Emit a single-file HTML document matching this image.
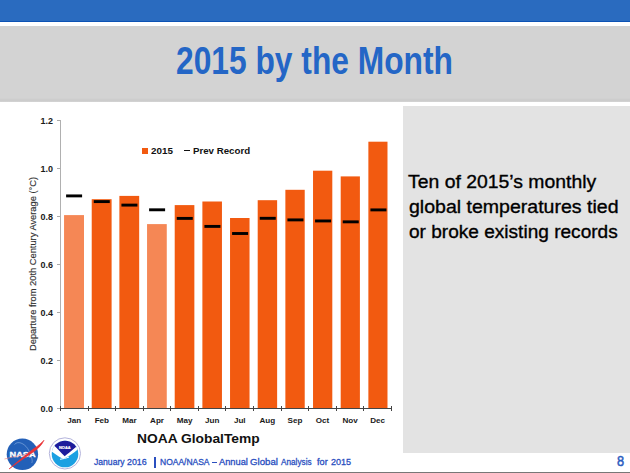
<!DOCTYPE html>
<html><head><meta charset="utf-8">
<style>
html,body{margin:0;padding:0;}
body{width:630px;height:473px;position:relative;overflow:hidden;background:#fff;font-family:"Liberation Sans",sans-serif;}
.a{position:absolute;}
.t{position:absolute;white-space:nowrap;line-height:1;transform-origin:0 0;}
#topbar{left:0;top:0;width:630px;height:21px;background:#2a6bbf;border-bottom:1px solid #0c52b4;}
#banner{left:0;top:26px;width:630px;height:76px;background:linear-gradient(#d3d3d3 0,#d3d3d3 72px,#cbcbcb 74px,#cdcdcd 75px,#d6d6d6 76px);}
#panel{left:403px;top:106px;width:227px;height:347px;background:#e3e3e3;}
.bar{position:absolute;width:19.5px;background:#f25a10;}
.bar.l{background:#f58755;}
.rec{position:absolute;width:16px;height:3px;background:#000;}
.yl{position:absolute;left:13px;width:40px;text-align:right;font-size:8.3px;font-weight:bold;color:#1a1a1a;line-height:14px;transform:scaleX(1.08);transform-origin:100% 0;}
.xl{position:absolute;width:40px;text-align:center;font-size:8.1px;font-weight:bold;color:#1a1a1a;top:416.9px;line-height:1;}
.yt{position:absolute;left:57px;width:3px;height:1px;background:#aaa;}
.xt{position:absolute;top:406px;width:1px;height:5px;background:#444;}
#yaxis{left:60px;top:120px;width:1px;height:288px;background:#b0b0b0;}
#xaxis{left:60px;top:408px;width:332px;height:1px;background:#444;}
#bottomline{left:0;top:472px;width:630px;height:1px;background:#777;}
</style></head>
<body>
<div class="a" id="topbar"></div>
<div class="a" id="banner"></div>
<div class="t" style="left:175.7px;top:40.7px;font-size:39.4px;font-weight:bold;color:#2466c6;transform:scaleX(0.806);">2015 by the Month</div>
<div class="a" id="panel"></div>
<div class="t" style="left:408.3px;top:172.9px;font-size:18.7px;font-weight:normal;color:#000;transform:scaleX(1.037);-webkit-text-stroke:0.35px #000;">Ten of 2015’s monthly</div>
<div class="t" style="left:409.3px;top:198.4px;font-size:18.7px;font-weight:normal;color:#000;transform:scaleX(1.045);-webkit-text-stroke:0.35px #000;">global temperatures tied</div>
<div class="t" style="left:409.3px;top:223.1px;font-size:18.7px;font-weight:normal;color:#000;transform:scaleX(1.020);-webkit-text-stroke:0.35px #000;">or broke existing records</div>
<div class="a" id="yaxis"></div>
<svg class="a" style="left:0;top:0" width="630" height="473" viewBox="0 0 630 473"><rect x="64.05" y="215.10" width="19.95" height="192.90" fill="#f58755"/><rect x="91.72" y="199.20" width="19.88" height="208.80" fill="#f25a10"/><rect x="119.38" y="195.90" width="19.80" height="212.10" fill="#f25a10"/><rect x="147.05" y="224.10" width="19.72" height="183.90" fill="#f58755"/><rect x="174.71" y="205.10" width="19.65" height="202.90" fill="#f25a10"/><rect x="202.38" y="201.50" width="19.57" height="206.50" fill="#f25a10"/><rect x="230.04" y="218.00" width="19.50" height="190.00" fill="#f25a10"/><rect x="257.70" y="200.20" width="19.43" height="207.80" fill="#f25a10"/><rect x="285.37" y="189.80" width="19.35" height="218.20" fill="#f25a10"/><rect x="313.03" y="170.70" width="19.27" height="237.30" fill="#f25a10"/><rect x="340.70" y="176.40" width="19.20" height="231.60" fill="#f25a10"/><rect x="368.37" y="141.70" width="19.12" height="266.30" fill="#f25a10"/><rect x="66.10" y="194.45" width="16" height="2.9" fill="#000"/><rect x="93.77" y="200.15" width="16" height="2.9" fill="#000"/><rect x="121.43" y="203.65" width="16" height="2.9" fill="#000"/><rect x="149.10" y="208.35" width="16" height="2.9" fill="#000"/><rect x="176.76" y="216.95" width="16" height="2.9" fill="#000"/><rect x="204.43" y="224.95" width="16" height="2.9" fill="#000"/><rect x="232.09" y="232.05" width="16" height="2.9" fill="#000"/><rect x="259.75" y="216.85" width="16" height="2.9" fill="#000"/><rect x="287.42" y="218.45" width="16" height="2.9" fill="#000"/><rect x="315.08" y="219.50" width="16" height="2.9" fill="#000"/><rect x="342.75" y="220.40" width="16" height="2.9" fill="#000"/><rect x="370.42" y="208.45" width="16" height="2.9" fill="#000"/></svg>
<div class="xt" style="left:60.00px"></div>
<div class="xt" style="left:87.58px"></div>
<div class="xt" style="left:115.16px"></div>
<div class="xt" style="left:142.74px"></div>
<div class="xt" style="left:170.32px"></div>
<div class="xt" style="left:197.90px"></div>
<div class="xt" style="left:225.48px"></div>
<div class="xt" style="left:253.06px"></div>
<div class="xt" style="left:280.64px"></div>
<div class="xt" style="left:308.22px"></div>
<div class="xt" style="left:335.80px"></div>
<div class="xt" style="left:363.38px"></div>
<div class="xt" style="left:390.96px"></div>
<div class="yt" style="top:408px"></div>
<div class="yt" style="top:360px"></div>
<div class="yt" style="top:312px"></div>
<div class="yt" style="top:264px"></div>
<div class="yt" style="top:216px"></div>
<div class="yt" style="top:168px"></div>
<div class="yt" style="top:120px"></div>
<div class="xl" style="left:54.29px">Jan</div>
<div class="xl" style="left:81.87px">Feb</div>
<div class="xl" style="left:109.45px">Mar</div>
<div class="xl" style="left:137.03px">Apr</div>
<div class="xl" style="left:164.61px">May</div>
<div class="xl" style="left:192.19px">Jun</div>
<div class="xl" style="left:219.77px">Jul</div>
<div class="xl" style="left:247.35px">Aug</div>
<div class="xl" style="left:274.93px">Sep</div>
<div class="xl" style="left:302.51px">Oct</div>
<div class="xl" style="left:330.09px">Nov</div>
<div class="xl" style="left:357.67px">Dec</div>
<div class="yl" style="top:402.0px">0.0</div>
<div class="yl" style="top:354.0px">0.2</div>
<div class="yl" style="top:306.0px">0.4</div>
<div class="yl" style="top:258.0px">0.6</div>
<div class="yl" style="top:210.0px">0.8</div>
<div class="yl" style="top:162.0px">1.0</div>
<div class="yl" style="top:114.0px">1.2</div>
<div class="a" id="xaxis"></div>
<div class="a" style="left:142.3px;top:148.1px;width:5.8px;height:5.8px;background:#f25a10"></div>
<div class="t" style="left:151.2px;top:145.8px;font-size:9.9px;font-weight:bold;color:#111;transform:scaleX(0.995);">2015</div>
<div class="a" style="left:184.4px;top:149.7px;width:5.8px;height:1.8px;background:#111"></div>
<div class="t" style="left:192.7px;top:145.6px;font-size:9.9px;font-weight:bold;color:#111;transform:scaleX(0.981);">Prev Record</div>
<div class="t" style="left:137.2px;top:432.2px;font-size:13px;font-weight:bold;color:#111;transform:scaleX(1.062);">NOAA GlobalTemp</div>
<div class="t" style="left:29.2px;top:351px;font-size:8.4px;color:#333;-webkit-text-stroke:0.15px #333;transform:rotate(-90deg) scaleX(1.11);transform-origin:0 0;">Departure from 20th Century Average (°C)</div>
<div class="a" id="bottomline"></div>
<div class="t" style="left:94.3px;top:458.2px;font-size:9px;font-weight:normal;color:#2a4fbf;transform:scaleX(0.955);-webkit-text-stroke:0.3px #2a4fbf;">January</div>
<div class="t" style="left:127.1px;top:458.2px;font-size:9px;font-weight:normal;color:#2a4fbf;transform:scaleX(0.984);-webkit-text-stroke:0.3px #2a4fbf;">2016</div>
<div class="a" style="left:154.4px;top:456.5px;width:2px;height:11.3px;background:#2a4fbf"></div>
<div class="t" style="left:160.3px;top:458.2px;font-size:9px;font-weight:normal;color:#2a4fbf;transform:scaleX(0.943);-webkit-text-stroke:0.3px #2a4fbf;">NOAA/NASA</div>
<div class="a" style="left:212.3px;top:461.6px;width:4.7px;height:1px;background:#2a4fbf"></div>
<div class="t" style="left:219.1px;top:458.2px;font-size:9px;font-weight:normal;color:#2a4fbf;transform:scaleX(1.031);-webkit-text-stroke:0.3px #2a4fbf;">Annual</div>
<div class="t" style="left:250.2px;top:458.2px;font-size:9px;font-weight:normal;color:#2a4fbf;transform:scaleX(1.074);-webkit-text-stroke:0.3px #2a4fbf;">Global</div>
<div class="t" style="left:281.0px;top:458.2px;font-size:9px;font-weight:normal;color:#2a4fbf;transform:scaleX(0.912);-webkit-text-stroke:0.3px #2a4fbf;">Analysis</div>
<div class="t" style="left:316.8px;top:458.2px;font-size:9px;font-weight:normal;color:#2a4fbf;transform:scaleX(1.020);-webkit-text-stroke:0.3px #2a4fbf;">for</div>
<div class="t" style="left:331.0px;top:458.2px;font-size:9px;font-weight:normal;color:#2a4fbf;transform:scaleX(1.005);-webkit-text-stroke:0.3px #2a4fbf;">2015</div>
<svg class="a" style="left:2px;top:436px" width="44" height="36" viewBox="0 0 44 36">
<circle cx="20.4" cy="18.3" r="15.7" fill="#2360b8"/>
<path d="M12.5 8.5 C16 4 24 8 27 15 C30 21 31 26 29.5 27" fill="none" stroke="#8fb4e4" stroke-width="0.6"/>
<text x="20.6" y="21.4" text-anchor="middle" font-family="Liberation Sans" font-weight="bold" font-size="7.8" fill="#fff" stroke="#fff" stroke-width="0.3" textLength="26" lengthAdjust="spacingAndGlyphs">NASA</text>
<path d="M7 33 C15 26 23 19.5 32 12.5 C36.5 9.5 39.5 7 42 4.2 C40 8.5 36.5 12.5 32 15.5 C24 21 15 27 7 33 Z" fill="#ea3236" stroke="#ea3236" stroke-width="0.6"/>
<path d="M2.5 23 C10 21 18 19.5 24 18.5" fill="none" stroke="#f08080" stroke-width="0.6"/>
</svg>
<svg class="a" style="left:46px;top:436px" width="38" height="36" viewBox="0 0 38 36">
<circle cx="18.9" cy="17.4" r="15.6" fill="#fff" stroke="#b4b4dc" stroke-width="1"/>
<clipPath id="nc"><circle cx="19" cy="18" r="13.3"/></clipPath>
<g clip-path="url(#nc)">
<rect x="0" y="0" width="38" height="36" fill="#1ba0e2"/>
<path d="M0 0 L38 0 L38 12 L32.7 12.4 C27 17.5 21 22 16.4 22.5 C12 20.5 8 17 5.7 15.5 L0 14.5 Z" fill="#fff"/>
<path d="M0 0 L38 0 L38 9.5 L30.5 10.5 C25 15 21 18.5 18.7 20.2 C15 17 11 12 8 9.5 L0 9.5 Z" fill="#1c1c9c"/>
<path d="M14 23.3 C17 22.8 20 22.3 23 21" fill="none" stroke="#fff" stroke-width="1"/>
</g>
<text x="18.8" y="12.8" text-anchor="middle" font-family="Liberation Sans" font-weight="bold" font-size="4.4" fill="#fff" stroke="#fff" stroke-width="0.2" textLength="11.5" lengthAdjust="spacingAndGlyphs">NOAA</text>
</svg>
<div class="t" style="left:616.9px;top:454.3px;font-size:14.2px;font-weight:normal;color:#2a5cc0;transform:scaleX(0.900);-webkit-text-stroke:0.5px #2a5cc0;">8</div>
</body></html>
